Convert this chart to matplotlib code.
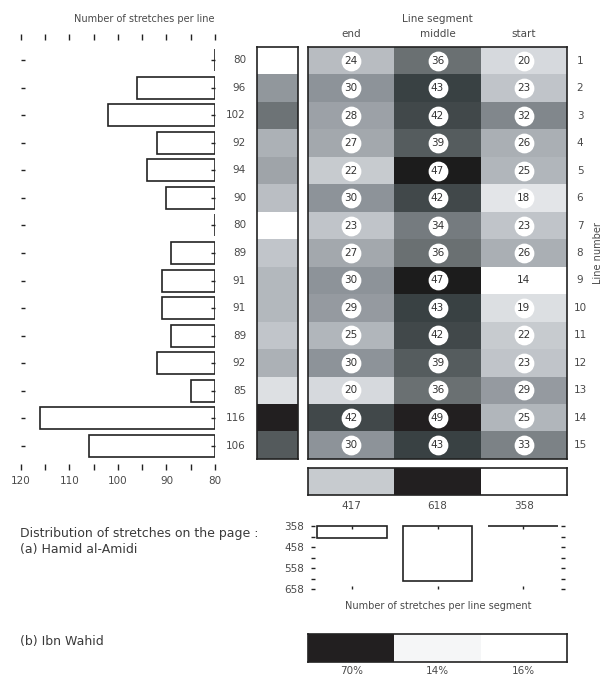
import numpy as np
import matplotlib
matplotlib.use("Agg")
import matplotlib.pyplot as plt
from matplotlib.colors import LinearSegmentedColormap, to_rgb

# data
line_numbers = list(range(1, 16))
stretches_per_line = [80, 96, 102, 92, 94, 90, 80, 89, 91, 91, 89, 92, 85, 116, 106]
segments = ["end", "middle", "start"]
seg_end = [24, 30, 28, 27, 22, 30, 23, 27, 30, 29, 25, 30, 20, 42, 30]
seg_middle = [36, 43, 42, 39, 47, 42, 34, 36, 47, 43, 42, 39, 36, 49, 43]
seg_start = [20, 23, 32, 26, 25, 18, 23, 26, 14, 19, 22, 23, 29, 25, 33]
ibn_wahid_pct = [70, 14, 16]
ibn_wahid_shades = ["#221f20", "#f5f6f7", "#ffffff"]

grid = np.array([seg_end, seg_middle, seg_start]).T
seg_totals = grid.sum(axis=0)

W, H = 602, 677
fig = plt.figure(figsize=(W / 100, H / 100), dpi=100)
TXT = "#4a4a4a"
plt.rcParams["font.family"] = ["DejaVu Sans"]

cmap = LinearSegmentedColormap.from_list("greys", [
    (0.0, "#ffffff"), (0.17, "#d6d9dd"), (0.46, "#8d9399"), (0.63, "#6a7072"),
    (0.83, "#3a4244"), (0.94, "#1c1c1c"), (1.0, "#221f20")])


def px_axes(x0, y0, x1, y1):
    return fig.add_axes([x0 / W, 1 - y1 / H, (x1 - x0) / W, (y1 - y0) / H])


def ftext(x, y, s, **kw):
    fig.text(x / W, 1 - y / H, s, **kw)


def strip(ax):
    ax.set_xticks([])
    ax.set_yticks([])
    for sp in ax.spines.values():
        sp.set_linewidth(1.2)
        sp.set_color("#222222")


# ---- left bar chart: stretches per line
ax1 = px_axes(21, 34, 215, 470)
ax1.barh(line_numbers, [v - 80 for v in stretches_per_line], left=80, height=0.8,
         color="white", edgecolor="#222222", linewidth=1.2)
ax1.set_xlim(120, 80)
ax1.set_ylim(15.87, 0.057)
for sp in ax1.spines.values():
    sp.set_visible(False)
ax1.set_xticks(np.arange(80, 121, 5))
ax1.set_xticklabels(["80", "", "90", "", "100", "", "110", "", "120"])
ax1.set_yticks(line_numbers)
ax1.set_yticklabels([])
ax1.tick_params(axis="x", top=True, bottom=True, direction="in", length=4,
                width=1, color="#222222", labelsize=7.5, labelcolor=TXT, pad=4)
ax1.tick_params(axis="y", left=True, right=True, direction="in", length=3,
                width=1, color="#222222")
for n, v in zip(line_numbers, stretches_per_line):
    ax1.annotate(str(v), (1, n), xycoords=("axes fraction", "data"),
                 xytext=(31, 0), textcoords="offset pixels",
                 ha="right", va="center", fontsize=7.5, color=TXT)
ftext(215, 19, "Number of stretches per line", ha="right", va="center",
      fontsize=7, color=TXT)

# ---- per-line shade strip
ax2 = px_axes(257, 47, 298, 459)
ax2.imshow(np.array(stretches_per_line)[:, None], cmap=cmap, aspect="auto",
           interpolation="nearest")
strip(ax2)

# ---- heatmap of segments
ax3 = px_axes(308, 47, 567, 459)
ax3.imshow(grid, cmap=cmap, aspect="auto", interpolation="nearest",
           extent=(-0.5, 2.5, 15.5, 0.5))
strip(ax3)
xs, ys = np.meshgrid(range(3), line_numbers)
ax3.scatter(xs.ravel(), ys.ravel(), s=175, color="white", zorder=3)
for (r, c), v in np.ndenumerate(grid):
    ax3.text(c, r + 1, str(v), ha="center", va="center", fontsize=7.5,
             color="#333333", zorder=4)
ax3.set_xlim(-0.5, 2.5)
ax3.set_ylim(15.5, 0.5)
for n in line_numbers:
    ax3.annotate(str(n), (1, n), xycoords=("axes fraction", "data"),
                 xytext=(13, 0), textcoords="offset pixels",
                 ha="center", va="center", fontsize=7.5, color=TXT)
for i, s in enumerate(segments):
    ax3.annotate(s, (i, 1), xycoords=("data", "axes fraction"),
                 xytext=(0, 13), textcoords="offset pixels",
                 ha="center", va="center", fontsize=7.5, color=TXT)
ftext(437, 19, "Line segment", ha="center", va="center", fontsize=7.5, color=TXT)
ftext(598, 253, "Line number", ha="center", va="center", rotation=90,
      fontsize=7, color=TXT)

# ---- segment totals strip
ax4 = px_axes(308, 468, 567, 495)
ax4.imshow(seg_totals[None, :], cmap=cmap, aspect="auto", interpolation="nearest")
strip(ax4)
for i, v in enumerate(seg_totals):
    ax4.annotate(str(v), (i, 0), xycoords=("data", "axes fraction"),
                 xytext=(0, -11), textcoords="offset pixels",
                 ha="center", va="center", fontsize=7.5, color=TXT)

# ---- distribution bars
base = seg_totals.min()
ax5 = px_axes(311, 526, 565, 589)
ax5.bar(range(3), seg_totals - base, bottom=base, width=0.81, color="white",
        edgecolor="#222222", linewidth=1.2, clip_on=False)
ax5.set_xlim(-0.48, 2.49)
ax5.set_ylim(base + 300, base)
for sp in ax5.spines.values():
    sp.set_visible(False)
ax5.set_xticks(range(3))
ax5.set_xticklabels([])
ax5.set_yticks(np.arange(base, base + 301, 100))
ax5.set_yticks(np.arange(base + 50, base + 300, 100), minor=True)
ax5.tick_params(axis="x", top=True, bottom=True, direction="in", length=2,
                width=1, color="#222222")
ax5.tick_params(axis="y", which="both", left=True, right=True, direction="in",
                length=3, width=1, color="#222222", labelsize=7.5,
                labelcolor=TXT, pad=5)
ax5.set_xlabel("Number of stretches per line segment", fontsize=7, color=TXT,
               labelpad=5)

ftext(20, 533, "Distribution of stretches on the page :", ha="left",
      va="center", fontsize=9, color="#3a3a3a")
ftext(20, 549, "(a) Hamid al-Amidi", ha="left", va="center", fontsize=9,
      color="#3a3a3a")
ftext(20, 642, "(b) Ibn Wahid", ha="left", va="center", fontsize=9,
      color="#3a3a3a")

# ---- Ibn Wahid strip
ax6 = px_axes(308, 634, 567, 662)
ax6.imshow(np.array([[to_rgb(c) for c in ibn_wahid_shades]]), aspect="auto",
           interpolation="nearest")
strip(ax6)
for i, v in enumerate(ibn_wahid_pct):
    ax6.annotate(f"{v}%", (i, 0), xycoords=("data", "axes fraction"),
                 xytext=(0, -9), textcoords="offset pixels",
                 ha="center", va="center", fontsize=7.5, color=TXT)

fig.savefig("out.png", dpi=100)
